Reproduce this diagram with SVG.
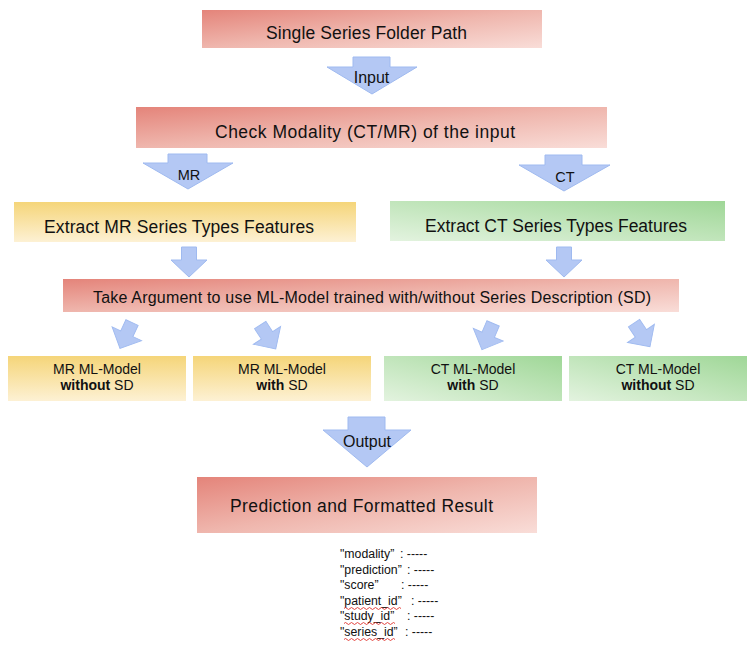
<svg xmlns="http://www.w3.org/2000/svg" width="755" height="646" viewBox="0 0 755 646">
  <defs>
    <linearGradient id="gRed" x1="0" y1="0" x2="1" y2="1">
      <stop offset="0" stop-color="#e4847a"/>
      <stop offset="0.5" stop-color="#efb6ad"/>
      <stop offset="1" stop-color="#f9ddd8"/>
    </linearGradient>
    <linearGradient id="gYellow" x1="0" y1="0" x2="0" y2="1">
      <stop offset="0" stop-color="#f5d579"/>
      <stop offset="1" stop-color="#fdf1d4"/>
    </linearGradient>
    <linearGradient id="gGreen" x1="0" y1="1" x2="1" y2="0">
      <stop offset="0" stop-color="#e3f3df"/>
      <stop offset="1" stop-color="#9fd797"/>
    </linearGradient>
    <path id="smallArrow" d="M-7.5,-15 H7.5 V-2 H18 L0,15 L-18,-2 H-7.5 Z"/>
  </defs>
  <style>
    .red { fill: url(#gRed); }
    .yel { fill: url(#gYellow); }
    .grn { fill: url(#gGreen); }
    .arrow { fill: #b4c8f4; stroke: #9fbaf0; stroke-width: 1; }
    text { font-family: "Liberation Sans", Arial, sans-serif; fill: #111; }
    .t18 { font-size: 17.5px; }
    .t16 { font-size: 16px; }
    .t14 { font-size: 14px; text-anchor: middle; }
    .lbl { font-size: 14.5px; text-anchor: middle; }
    .mid { text-anchor: middle; }
    .b { font-weight: bold; }
    .json { font-size: 12.3px; }
    .wavy { fill: none; stroke: #e0312b; stroke-width: 0.9; }
  </style>

  <g id="connectors">
    <path class="arrow" d="M353,57 H390 V67 H417 L372,94 L327,67 H353 Z"/>
    <path class="arrow" d="M168,154 H207 V163 H233 L188,189 L143,163 H168 Z"/>
    <path class="arrow" d="M545,155 H582 V165 H610 L564,191 L519,165 H545 Z"/>
    <use href="#smallArrow" class="arrow" transform="translate(189,262)"/>
    <use href="#smallArrow" class="arrow" transform="translate(564,262)"/>
    <use href="#smallArrow" class="arrow" transform="translate(126,335.5) rotate(25) scale(0.9,0.95)"/>
    <use href="#smallArrow" class="arrow" transform="translate(268,337) rotate(-33) scale(0.9,0.95)"/>
    <use href="#smallArrow" class="arrow" transform="translate(487.5,336.5) rotate(23) scale(0.9,0.95)"/>
    <use href="#smallArrow" class="arrow" transform="translate(642,335) rotate(-34) scale(0.9,0.95)"/>
    <path class="arrow" d="M348,417 H385 V430 H411 L367,467 L323,430 H348 Z"/>
    <text class="t16 mid" x="371.5" y="83">Input</text>
    <text class="lbl" x="189" y="180">MR</text>
    <text class="lbl" x="565" y="182">CT</text>
    <text class="t16 mid" x="367" y="447">Output</text>
  </g>

  <g id="node-folder">
    <rect class="red" x="202" y="10" width="340" height="38"/>
    <text class="t18 mid" x="366.5" y="39" textLength="201">Single Series Folder Path</text>
  </g>

  <g id="node-check">
    <rect class="red" x="136" y="107" width="471" height="41"/>
    <text class="t18 mid" x="365" y="138" textLength="300">Check Modality (CT/MR) of the input</text>
  </g>

  <g id="node-extract-mr">
    <rect class="yel" x="14" y="202" width="342" height="40"/>
    <text class="t18 mid" x="179" y="233" textLength="270">Extract MR Series Types Features</text>
  </g>

  <g id="node-extract-ct">
    <rect class="grn" x="390" y="201" width="335" height="40"/>
    <text class="t18 mid" x="556" y="232" textLength="262">Extract CT Series Types Features</text>
  </g>

  <g id="node-argument">
    <rect class="red" x="63" y="279" width="616" height="33"/>
    <text class="t16 mid" x="372" y="303" textLength="558">Take Argument to use ML-Model trained with/without Series Description (SD)</text>
  </g>

  <g id="node-mr-without">
    <rect class="yel" x="8" y="356" width="178" height="45"/>
    <text class="t14" x="97" y="374">MR ML-Model</text>
    <text class="t14" x="97" y="390"><tspan class="b">without</tspan> SD</text>
  </g>

  <g id="node-mr-with">
    <rect class="yel" x="193" y="356" width="178" height="45"/>
    <text class="t14" x="282" y="374">MR ML-Model</text>
    <text class="t14" x="282" y="390"><tspan class="b">with</tspan> SD</text>
  </g>

  <g id="node-ct-with">
    <rect class="grn" x="384" y="356" width="178" height="45"/>
    <text class="t14" x="473" y="374">CT ML-Model</text>
    <text class="t14" x="473" y="390"><tspan class="b">with</tspan> SD</text>
  </g>

  <g id="node-ct-without">
    <rect class="grn" x="569" y="356" width="178" height="45"/>
    <text class="t14" x="658" y="374">CT ML-Model</text>
    <text class="t14" x="658" y="390"><tspan class="b">without</tspan> SD</text>
  </g>

  <g id="node-result">
    <rect class="red" x="197" y="477" width="340" height="56"/>
    <text class="t18 mid" x="361.5" y="512" textLength="263">Prediction and Formatted Result</text>
  </g>

  <g id="result-fields">
    <text class="json" x="340" y="558">"modality”<tspan x="400">: -----</tspan></text>
    <text class="json" x="340" y="574">"prediction”<tspan x="407">: -----</tspan></text>
    <text class="json" x="340" y="589">"score”<tspan x="401">: -----</tspan></text>
    <text class="json" x="340" y="605">"patient_id”<tspan x="411">: -----</tspan></text>
    <text class="json" x="340" y="620">"study_id”<tspan x="407">: -----</tspan></text>
    <text class="json" x="340" y="636">"series_id”<tspan x="405">: -----</tspan></text>
    <path class="wavy" d="M344,608.5 q1.5,-2 3,0 t3,0 t3,0 t3,0 t3,0 t3,0 t3,0 t3,0 t3,0 t3,0 t3,0 t3,0 t3,0 t3,0 t3,0 t3,0 t3,0 t3,0 t3,0"/>
    <path class="wavy" d="M344,623.5 q1.5,-2 3,0 t3,0 t3,0 t3,0 t3,0 t3,0 t3,0 t3,0 t3,0 t3,0 t3,0 t3,0 t3,0 t3,0 t3,0 t3,0 t3,0"/>
    <path class="wavy" d="M344,639.5 q1.5,-2 3,0 t3,0 t3,0 t3,0 t3,0 t3,0 t3,0 t3,0 t3,0 t3,0 t3,0 t3,0 t3,0 t3,0 t3,0 t3,0 t3,0"/>
  </g>
</svg>
